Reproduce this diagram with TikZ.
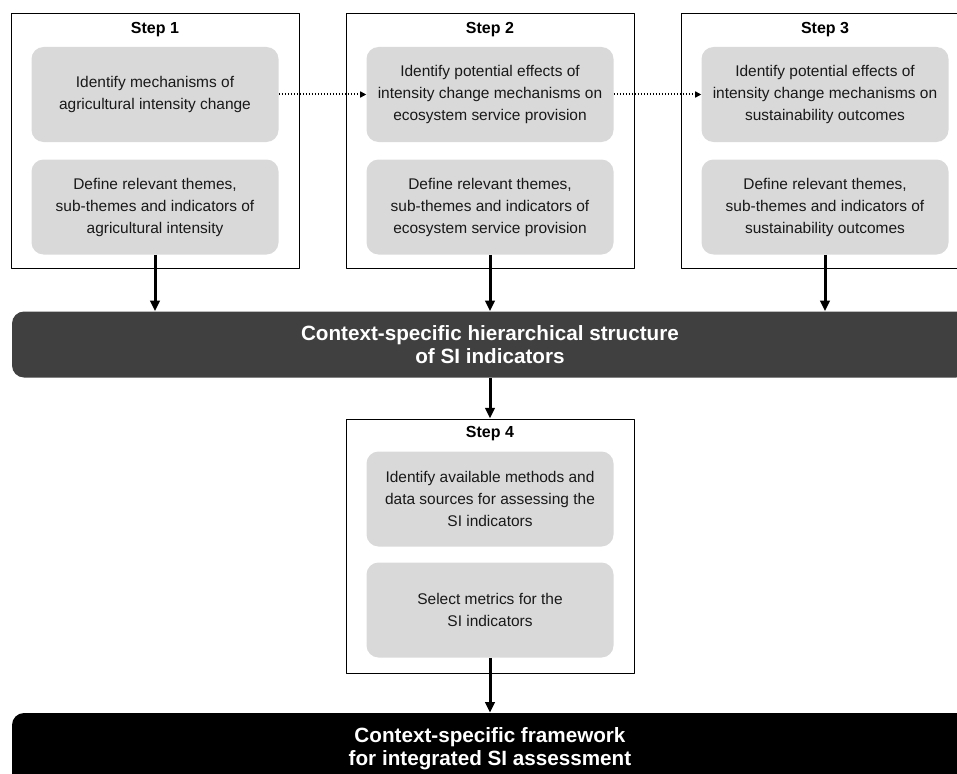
\documentclass[tikz,border=0pt]{standalone}
\usepackage{fontspec}
\setmainfont{Liberation Sans}
\usepackage{xcolor}
\usetikzlibrary{positioning,calc,arrows.meta}

\definecolor{boxgray}{RGB}{217,217,217}
\definecolor{bargray}{RGB}{64,64,64}

\begin{document}
\begin{tikzpicture}[x=0.75pt,y=-0.75pt, font=\fontsize{11.6}{16.5}\selectfont, line join=round]
	% ===== khung hình =====
	\useasboundingbox (0,0) rectangle (957,774);
	\clip (0,0) rectangle (957,774);
	
	% ===== style =====
	\tikzset{
		stepframe/.style={draw=black, line width=0.75pt, minimum width=216pt, minimum height=190.5pt, inner sep=0pt},
		steptitle/.style={font=\fontsize{12}{14}\selectfont\bfseries},
		task/.style={fill=boxgray, rounded corners=9pt, minimum width=185.25pt, minimum height=71.25pt, align=center, text=black!90, inner sep=0pt},
		bar/.style={rounded corners=9pt, minimum width=717pt, text=white, align=center, font=\fontsize{15.5}{17.25}\selectfont\bfseries},
		flow/.style={-{Triangle[length=8pt,width=7pt]}, line width=2.25pt},
		link/.style={-{Triangle[length=4.5pt,width=4.5pt]}, line width=1.5pt, dash pattern=on 1.1pt off 1.15pt}
	}
	
	% ===== các bước 1..3 =====
	\foreach \i/\cx/\ta/\tb in {
		1/155/{Identify mechanisms of\\agricultural intensity change}/{Define relevant themes,\\sub-themes and indicators of\\agricultural intensity},
		2/490/{Identify potential effects of\\intensity change mechanisms on\\ecosystem service provision}/{Define relevant themes,\\sub-themes and indicators of\\ecosystem service provision},
		3/825/{Identify potential effects of\\intensity change mechanisms on\\sustainability outcomes}/{Define relevant themes,\\sub-themes and indicators of\\sustainability outcomes}}{
		\node[stepframe] (s\i) at (\cx,141) {};
		\node[steptitle] (t\i) at (\cx,30) {Step \i};
		\node[task] (s\i a) at (\cx,94.5) {\ta};
		\node[task] (s\i b) at (\cx,207) {\tb};
	}
	
	% ===== thanh giữa =====
	\node[bar, fill=bargray, minimum height=49.5pt] (ctx) at (490,344.5) {Context-specific hierarchical structure\\of SI indicators};
	
	% ===== bước 4 =====
	\node[stepframe, minimum height=190.5pt] (s4) at (490,546) {};
	\node[steptitle] (t4) at (490,434) {Step 4};
	\node[task] (s4a) at (490,499) {Identify available methods and\\data sources for assessing the\\SI indicators};
	\node[task] (s4b) at (490,610) {Select metrics for the\\SI indicators};
	
	% ===== thanh cuối =====
	\node[bar, fill=black, minimum height=54pt] (fin) at (490,749) {Context-specific framework\\for integrated SI assessment};
	
	% ===== mũi tên =====
	\foreach \i in {1,2,3}{
		\draw[flow] (s\i b.south) -- (s\i b.south |- ctx.north);
	}
	\draw[flow] (ctx.south -| s4.north) -- (s4.north);
	\draw[flow] (s4b.south) -- (s4b.south |- fin.north);
	
	% ===== mũi tên chấm =====
	\draw[link] (s1a.east) -- (s2a.west);
	\draw[link] (s2a.east) -- (s3a.west);
\end{tikzpicture}
\end{document}
